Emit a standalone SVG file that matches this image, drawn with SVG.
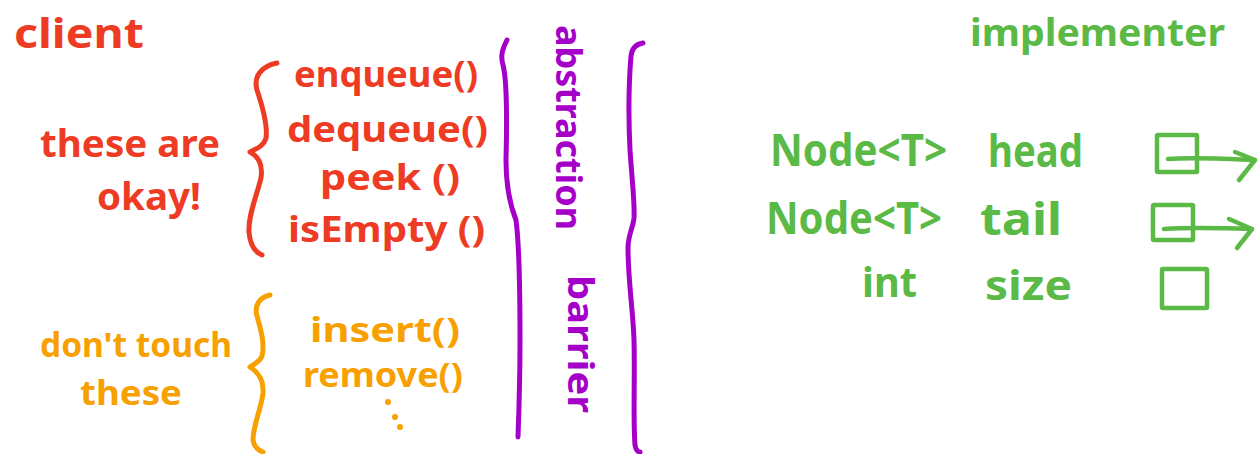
<svg xmlns="http://www.w3.org/2000/svg" width="1258" height="454" viewBox="0 0 1258 454">
<style>
text{font-family:"Noto Sans","DejaVu Sans",sans-serif;font-weight:bold}
.red{fill:#EE3B24}
.org{fill:#F7A000}
.pur{fill:#A400C8}
.grn{fill:#5BB946}
.sr{fill:none;stroke:#EE3B24;stroke-width:5;stroke-linecap:round;stroke-linejoin:round}
.so{fill:none;stroke:#F7A000;stroke-width:5;stroke-linecap:round;stroke-linejoin:round}
.sp{fill:none;stroke:#A400C8;stroke-width:5;stroke-linecap:round;stroke-linejoin:round}
.sg{fill:none;stroke:#5BB946;stroke-width:4.5;stroke-linecap:round;stroke-linejoin:round}
</style>
<rect width="1258" height="454" fill="#ffffff"/>

<g id="client">
<text class="red" x="14" y="48" font-size="42" textLength="130" lengthAdjust="spacingAndGlyphs">client</text>
</g>

<g id="okay-group">
<text class="red" x="40" y="157" font-size="38" textLength="180" lengthAdjust="spacingAndGlyphs">these are</text>
<text class="red" x="97" y="210" font-size="38" textLength="104" lengthAdjust="spacingAndGlyphs">okay!</text>
<path class="sr" d="M277,63 C262,66 253,76 257,90 C262,105 268,125 266,138 C264,146 256,149 250,152 C258,156 263,164 261,178 C257,195 248,215 249,232 C250,245 255,252 262,255"/>
<text class="red" x="294" y="87" font-size="36" textLength="184" lengthAdjust="spacingAndGlyphs">enqueue()</text>
<text class="red" x="287" y="142" font-size="36" textLength="201" lengthAdjust="spacingAndGlyphs">dequeue()</text>
<text class="red" x="320" y="190" font-size="36" textLength="140" lengthAdjust="spacingAndGlyphs">peek ()</text>
<text class="red" x="288" y="242" font-size="36" textLength="197" lengthAdjust="spacingAndGlyphs">isEmpty ()</text>
</g>

<g id="dont-touch-group">
<text class="org" x="40" y="357" font-size="34" textLength="192" lengthAdjust="spacingAndGlyphs">don't touch</text>
<text class="org" x="80" y="405" font-size="34" textLength="102" lengthAdjust="spacingAndGlyphs">these</text>
<path class="so" d="M270,295 C260,297 254,305 257,316 C261,330 265,345 262,356 C260,362 254,364 250,367 C258,372 264,380 263,393 C261,410 253,425 253,440 C254,447 258,450 263,452"/>
<text class="org" x="310" y="342" font-size="34" textLength="150" lengthAdjust="spacingAndGlyphs">insert()</text>
<text class="org" x="303" y="387" font-size="34" textLength="160" lengthAdjust="spacingAndGlyphs">remove()</text>
<circle class="org" cx="388" cy="402" r="3"/>
<circle class="org" cx="395" cy="417" r="3"/>
<circle class="org" cx="400" cy="427" r="3"/>
</g>

<g id="abstraction-barrier">
<path class="sp" d="M507,40 C503,48 500,55 503,65 C507,80 507,120 506,160 C506,185 510,205 516,220 C520,250 520,300 520,340 C520,380 519,410 518,437"/>
<text class="pur" transform="translate(556,25) rotate(90)" font-size="36" textLength="205" lengthAdjust="spacingAndGlyphs">abstraction</text>
<text class="pur" transform="translate(568,275) rotate(90)" font-size="36" textLength="138" lengthAdjust="spacingAndGlyphs">barrier</text>
<path class="sp" d="M643,43 C636,44 632,48 631,56 C629,80 628,110 630,150 C632,180 635,205 634,218 C633,228 628,235 628,248 C628,280 633,310 634,340 C635,380 633,420 635,445 C636,450 638,452 640,452"/>
</g>

<g id="implementer">
<text class="grn" x="970" y="46" font-size="38" textLength="255" lengthAdjust="spacingAndGlyphs">implementer</text>
</g>

<g id="head-field">
<text class="grn" x="770" y="166" font-size="44" textLength="177" lengthAdjust="spacingAndGlyphs">Node&lt;T&gt;</text>
<text class="grn" x="988" y="167" font-size="44" textLength="95" lengthAdjust="spacingAndGlyphs">head</text>
<rect class="sg" x="1157" y="135" width="40" height="37" rx="1"/>
</g>

<g id="tail-field">
<text class="grn" x="766" y="234" font-size="44" textLength="176" lengthAdjust="spacingAndGlyphs">Node&lt;T&gt;</text>
<text class="grn" x="980" y="235" font-size="44" textLength="82" lengthAdjust="spacingAndGlyphs">tail</text>
<rect class="sg" x="1153" y="205" width="40" height="35" rx="1"/>
</g>

<g id="size-field">
<text class="grn" x="862" y="297" font-size="42" textLength="55" lengthAdjust="spacingAndGlyphs">int</text>
<text class="grn" x="985" y="300" font-size="42" textLength="87" lengthAdjust="spacingAndGlyphs">size</text>
<rect class="sg" x="1162" y="269" width="45" height="39" rx="1"/>
</g>

<g id="connectors">
<path class="sg" d="M1168,159 C1190,157 1230,159 1255,160"/>
<path class="sg" d="M1235,152 L1255,160 L1239,180"/>
<path class="sg" d="M1164,229 C1190,227 1225,228 1252,229"/>
<path class="sg" d="M1229,219 L1252,229 L1237,248"/>
</g>
</svg>
